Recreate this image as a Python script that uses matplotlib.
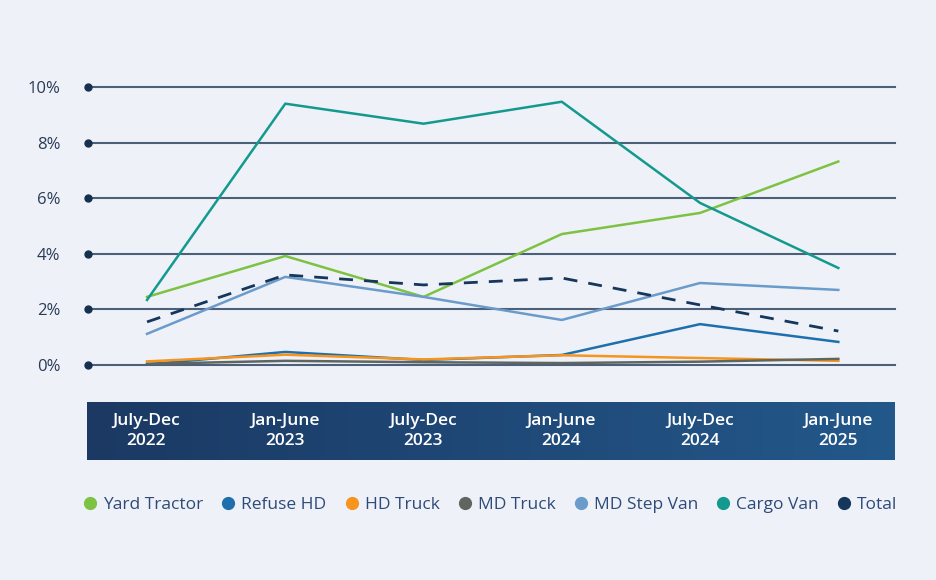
import numpy as np
import matplotlib.pyplot as plt
from matplotlib.lines import Line2D
from matplotlib.colors import LinearSegmentedColormap

periods = ["July-Dec\n2022", "Jan-June\n2023", "July-Dec\n2023",
           "Jan-June\n2024", "July-Dec\n2024", "Jan-June\n2025"]

yard_tractor = [2.45, 3.92, 2.45, 4.71, 5.47, 7.32]
refuse_hd = [0.02, 0.47, 0.18, 0.36, 1.47, 0.83]
hd_truck = [0.13, 0.37, 0.20, 0.35, 0.25, 0.15]
md_truck = [0.04, 0.15, 0.10, 0.07, 0.12, 0.22]
md_step_van = [1.12, 3.17, 2.45, 1.62, 2.95, 2.70]
cargo_van = [2.34, 9.40, 8.68, 9.47, 5.83, 3.49]
total = [1.55, 3.24, 2.88, 3.13, 2.16, 1.22]

series = [
    ("Yard Tractor", yard_tractor, "#7dc242", "-"),
    ("Refuse HD", refuse_hd, "#1f6fad", "-"),
    ("HD Truck", hd_truck, "#f7941d", "-"),
    ("MD Truck", md_truck, "#5f6661", "-"),
    ("MD Step Van", md_step_van, "#6a9bcb", "-"),
    ("Cargo Van", cargo_van, "#14998f", "-"),
    ("Total", total, "#16365c", "--"),
]

yticks = [0, 2, 4, 6, 8, 10]
bg = "#eef2f8"
navy = "#2a3b57"

plt.rcParams['font.family'] = ['Open Sans', 'DejaVu Sans']

fig = plt.figure(figsize=(9.36, 5.8), dpi=100)
fig.patch.set_facecolor(bg)

W, H = 936, 580
x0, x1 = 88, 895
ax = fig.add_axes([x0 / W, 1 - 365 / H, (x1 - x0) / W, (365 - 87) / H])
ax.set_facecolor(bg)
xlim = (-0.427, 5.41)
ax.set_xlim(*xlim)
ax.set_ylim(0, 10)
for s in ax.spines.values():
    s.set_visible(False)
ax.set_xticks([])
ax.set_yticks(yticks)
ax.set_yticklabels([f"{v}%" for v in yticks], color=navy, fontsize=12)
ax.tick_params(axis="y", length=0, pad=20)

# gridlines with a dot at the left end
for v in yticks:
    ax.plot(xlim, [v, v], color="#4d6079", lw=1.5, zorder=1, clip_on=False)
    ax.plot(xlim[0], v, "o", color="#16304f", ms=5, zorder=2, clip_on=False)

x = np.arange(len(periods))
handles = []
for name, vals, color, ls in series:
    if ls == "--":
        ax.plot(x, vals, color=color, lw=2, ls=(0, (5, 4)), zorder=3, clip_on=False)
    else:
        ax.plot(x, vals, color=color, lw=1.8, zorder=3, clip_on=False)
    handles.append(Line2D([], [], ls="", marker="o", ms=8.5, color=color, label=name))

# dark band carrying the period labels
band = fig.add_axes([87 / W, 1 - 460 / H, (x1 - 87) / W, 58 / H])
band.set_xlim(*xlim)
band.set_ylim(0, 1)
grad = np.linspace(0, 1, 256).reshape(1, -1)
cmap = LinearSegmentedColormap.from_list("band", ["#1b3963", "#23588b"])
band.imshow(grad, aspect="auto", cmap=cmap, extent=[xlim[0], xlim[1], 0, 1])
band.axis("off")
for i, lab in enumerate(periods):
    band.text(i, 0.5, lab, color="white", ha="center", va="center",
              fontsize=12.5, fontweight="semibold", linespacing=1.3)

fig.legend(handles=handles, loc="center", bbox_to_anchor=(490 / W, 1 - 505 / H),
           ncol=7, frameon=False, fontsize=12.5, handlelength=0.8,
           handletextpad=0.35, columnspacing=1.05, labelcolor="#2d4a78")

fig.savefig("out.png", dpi=100, facecolor=bg)
